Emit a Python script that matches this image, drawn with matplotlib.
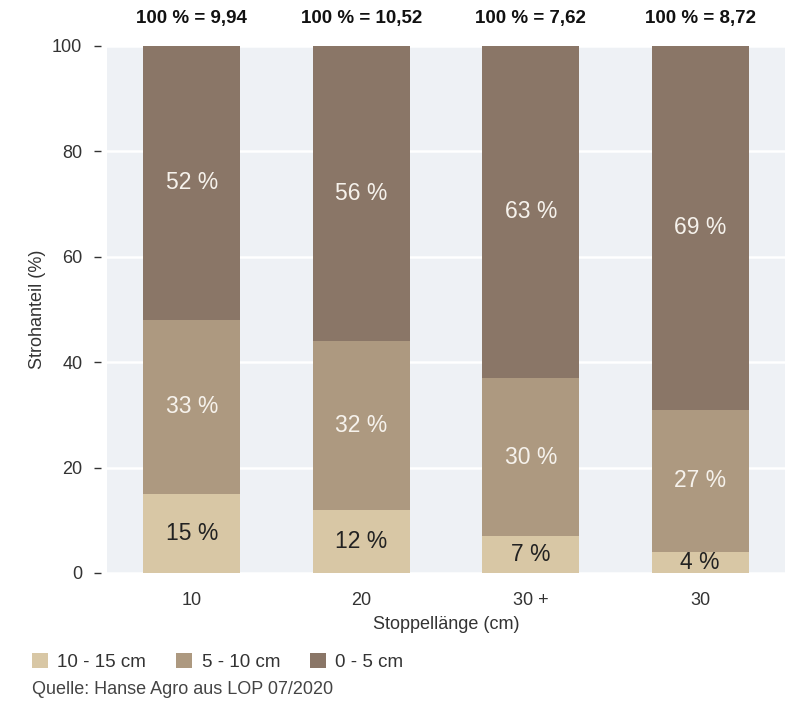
import matplotlib
matplotlib.use("Agg")
import matplotlib.pyplot as plt
from matplotlib.patches import Patch
from matplotlib.transforms import blended_transform_factory
import numpy as np

plt.rcParams['font.family'] = ['Liberation Sans', 'DejaVu Sans']

# Data
categories = ["10", "20", "30 +", "30"]
share_10_15 = [15, 12, 7, 4]
share_5_10 = [33, 32, 30, 27]
share_0_5 = [52, 56, 63, 69]
totals = ["9,94", "10,52", "7,62", "8,72"]
series_names = ["10 - 15 cm", "5 - 10 cm", "0 - 5 cm"]

colors = ["#d8c7a5", "#ad9980", "#8a7667"]
label_colors = ["#222222", "#f6f2ec", "#f6f2ec"]
text_col = "#333333"

fig = plt.figure(figsize=(8.02, 7.02), dpi=100)
ax = fig.add_axes([0.1334, 0.1838, 0.8454, 0.7507])
ax.set_facecolor("#eef1f5")

x = np.arange(len(categories))
width = 0.57
bottom = np.zeros(len(categories))
for vals, col, lcol in zip([share_10_15, share_5_10, share_0_5], colors, label_colors):
    vals = np.array(vals, dtype=float)
    ax.bar(x, vals, width, bottom=bottom, color=col, zorder=3, linewidth=0)
    for xi, b, v in zip(x, bottom, vals):
        ax.text(xi, b + v / 2, f"{int(v)} %", ha="center", va="center",
                fontsize=16.5, color=lcol, zorder=4)
    bottom += vals

# Totals above each bar
trans = blended_transform_factory(ax.transData, ax.transAxes)
for xi, t in zip(x, totals):
    ax.text(xi, 1.053, f"100 % = {t}", transform=trans, ha="center", va="center",
            fontsize=13.5, fontweight="bold", color="#111111", clip_on=False)

ax.set_xlim(-0.5, 3.5)
ax.set_ylim(0, 100)
ax.set_yticks([0, 20, 40, 60, 80, 100])
ax.yaxis.grid(True, color="white", linewidth=1.8, zorder=1)
ax.set_axisbelow(True)

for s in ["top", "right", "bottom"]:
    ax.spines[s].set_visible(False)
ax.spines["left"].set_position(("outward", 4.3))
ax.spines["left"].set_visible(False)

ax.tick_params(axis="y", length=5, width=1, color="#333333", pad=8.5,
               labelsize=13, labelcolor=text_col)
ax.set_xticks(x)
ax.set_xticklabels(categories)
ax.tick_params(axis="x", length=0, pad=14, labelsize=13, labelcolor=text_col)

ax.set_xlabel("Stoppellänge (cm)", fontsize=13, color=text_col)
ax.xaxis.set_label_coords(0.5, -0.0987)
ax.xaxis.label.set_va("center")
ax.set_ylabel("Strohanteil (%)", fontsize=13, color=text_col)
ax.yaxis.set_label_coords(-0.1018, 0.5)
ax.yaxis.label.set_va("center")

handles = [Patch(facecolor=c, edgecolor="none") for c in colors]
fig.legend(handles, series_names, loc="center left", bbox_to_anchor=(0.04, 1 - 662 / 702),
           ncol=3, frameon=False, fontsize=13.5, handlelength=0.85, handleheight=0.85,
           handletextpad=0.5, columnspacing=1.6, borderpad=0, borderaxespad=0,
           labelcolor=text_col)

fig.text(32 / 802, 1 - 689 / 702, "Quelle: Hanse Agro aus LOP 07/2020", ha="left",
         va="center", fontsize=13, color="#444444")

fig.savefig("out.png", dpi=100)
